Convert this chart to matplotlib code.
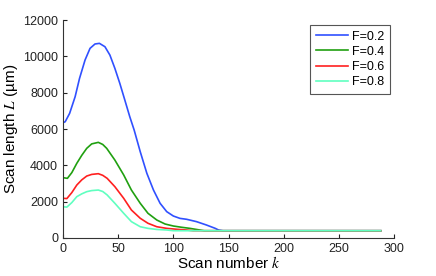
import matplotlib
matplotlib.use("Agg")
import matplotlib.pyplot as plt

plt.rcParams['font.family'] = ['Liberation Sans', 'DejaVu Sans']
plt.rcParams['mathtext.fontset'] = 'stix'

# scan numbers and scan lengths
k_blue = [0, 2, 6, 11, 15, 20, 24.5, 29, 33, 38, 42.5, 47, 51.5, 56, 60.5, 64.5,
          70, 76, 82, 88, 94, 100, 106, 112, 121, 130, 138, 141, 145, 288]
L_blue = [6350, 6400, 6860, 7780, 8790, 9800, 10440, 10680, 10715, 10530, 10070,
          9340, 8510, 7600, 6680, 5940, 4750, 3560, 2640, 1910, 1450, 1210, 1080,
          1030, 900, 715, 530, 440, 400, 400]

k_green = [0, 4, 8, 12.5, 17, 21.5, 26, 32, 36, 39.6, 47, 55, 62, 70, 77, 85,
           92.5, 100, 107.5, 115, 124, 128, 288]
L_green = [3320, 3285, 3600, 4110, 4550, 4935, 5180, 5265, 5150, 4935, 4290, 3470,
           2640, 1910, 1360, 990, 770, 660, 590, 530, 440, 400, 400]

k_red = [0, 3.5, 8, 12.5, 17, 21.5, 26, 32, 36, 40, 47, 55, 62, 70, 77, 85, 94,
         103, 112, 118, 288]
L_red = [2185, 2170, 2500, 2915, 3200, 3410, 3500, 3540, 3450, 3285, 2825, 2185,
         1540, 1085, 810, 620, 530, 480, 440, 400, 400]

k_cyan = [0, 3.5, 8, 12.5, 17, 21.5, 26, 32, 36, 40, 47, 55, 62, 70, 77, 85, 94,
          100, 288]
L_cyan = [1720, 1700, 1950, 2275, 2430, 2550, 2610, 2640, 2560, 2370, 1910, 1360,
          900, 620, 530, 470, 440, 400, 400]

labels = ['F=0.2', 'F=0.4', 'F=0.6', 'F=0.8']
colors = ['#3050ff', '#20a010', '#ff2020', '#60ffc0']

fig = plt.figure(figsize=(4.36, 2.76), dpi=100)
ax = fig.add_axes([0.1445, 0.1377, 0.7592, 0.7898])

series = [(k_blue, L_blue), (k_green, L_green), (k_red, L_red), (k_cyan, L_cyan)]
for (k, L), lab, c in zip(series, labels, colors):
    ax.plot(k, L, color=c, lw=1.2, label=lab)

ax.set_xlim(0, 300)
ax.set_ylim(0, 12000)
ax.set_xticks(range(0, 301, 50))
ax.set_yticks(range(0, 12001, 2000))
ax.spines['top'].set_visible(False)
ax.spines['right'].set_visible(False)
for s in ['left', 'bottom']:
    ax.spines[s].set_color('#333333')
    ax.spines[s].set_linewidth(0.8)
ax.tick_params(direction='in', length=3, width=0.8, labelsize=9, colors='#222222')

ax.set_xlabel(r'Scan number $k$', fontsize=11, labelpad=0)
ax.set_ylabel('Scan length $L$ (\u00b5m)', fontsize=11, labelpad=2)

leg = ax.legend(loc='upper right', fontsize=9, fancybox=False, framealpha=1,
                edgecolor='#555555', handlelength=2.6, handletextpad=0.3,
                borderpad=0.45, labelspacing=0.25, borderaxespad=0,
                bbox_to_anchor=(0.988, 0.977))
leg.get_frame().set_linewidth(0.8)

fig.savefig('out.png', dpi=100)
